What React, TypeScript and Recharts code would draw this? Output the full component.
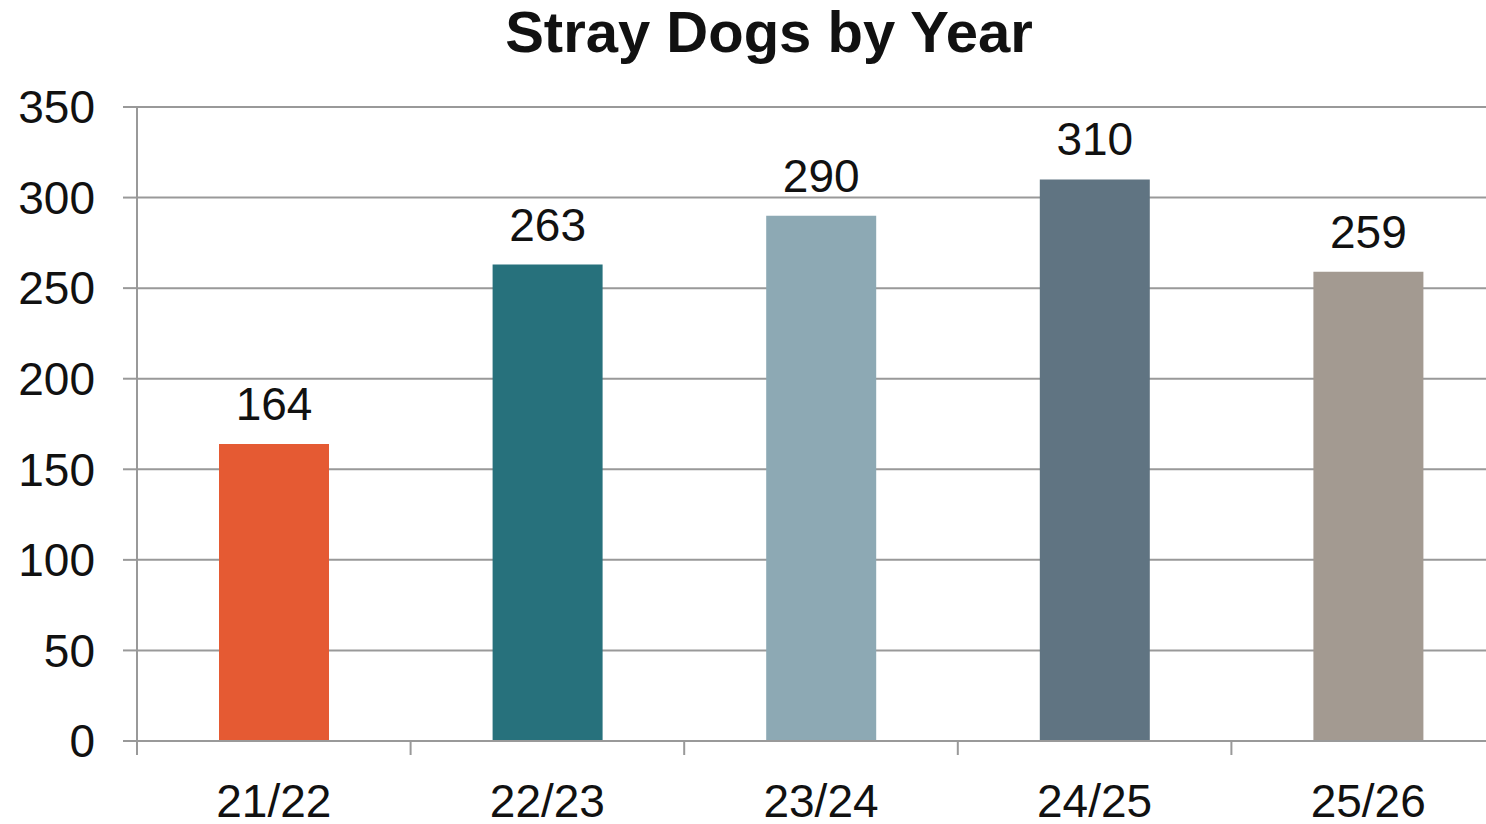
import { Bar, BarChart, CartesianGrid, Cell, LabelList, XAxis, YAxis } from 'recharts'

const seasons = ['21/22', '22/23', '23/24', '24/25', '25/26']
const strayDogs = [164, 263, 290, 310, 259]
const barColors = ['#E55A33', '#27717C', '#8DA9B4', '#607482', '#A39A91']
const yTicks = [0, 50, 100, 150, 200, 250, 300, 350]

const font = '"Liberation Sans", Arial, sans-serif'
const gridColor = '#999999'

const data = seasons.map((season, i) => ({ season, total: strayDogs[i] }))

function SeasonTick(props: any) {
	const { x, y, payload } = props
	const edge = x - (payload.offset || 0)
	return (
		<g>
			<line x1={edge} x2={edge} y1={y} y2={y + 14} stroke={gridColor} strokeWidth={2} />
			<text x={x} y={y + 76} textAnchor="middle" fontSize={46} fontFamily={font} fill="#111">
				{payload.value}
			</text>
		</g>
	)
}

export default function App() {
	return (
		<div style={{ position: 'absolute', left: 0, top: 0, width: 1486, height: 824, overflow: 'hidden', background: '#fff' }}>
			<div
				style={{
					position: 'absolute',
					left: 0,
					top: 3,
					width: 1538,
					textAlign: 'center',
					fontFamily: font,
					fontWeight: 'bold',
					fontSize: 58,
					lineHeight: 1,
					color: '#111',
				}}
			>
				Stray Dogs by Year
			</div>
			<BarChart
				width={1520}
				height={824}
				data={data}
				margin={{ top: 107, right: 15, bottom: 53, left: 0 }}
				barSize={110}
			>
				<CartesianGrid vertical={false} stroke={gridColor} strokeWidth={2} />
				<YAxis
					width={137}
					domain={[0, 350]}
					ticks={yTicks}
					interval={0}
					axisLine={{ stroke: gridColor, strokeWidth: 2 }}
					tickLine={{ stroke: gridColor, strokeWidth: 2 }}
					tickSize={14}
					tickMargin={28}
					tick={{ fontSize: 46, fontFamily: font, fill: '#111' }}
				/>
				<XAxis
					dataKey="season"
					height={30}
					interval={0}
					axisLine={{ stroke: gridColor, strokeWidth: 2 }}
					tickLine={false}
					tickSize={0}
					tickMargin={0}
					tick={<SeasonTick />}
				/>
				<Bar dataKey="total" isAnimationActive={false}>
					{data.map((d, i) => (
						<Cell key={d.season} fill={barColors[i]} />
					))}
					<LabelList
						dataKey="total"
						position="top"
						offset={24}
						fontSize={46}
						fontFamily={font}
						fill="#111"
					/>
				</Bar>
			</BarChart>
		</div>
	)
}
